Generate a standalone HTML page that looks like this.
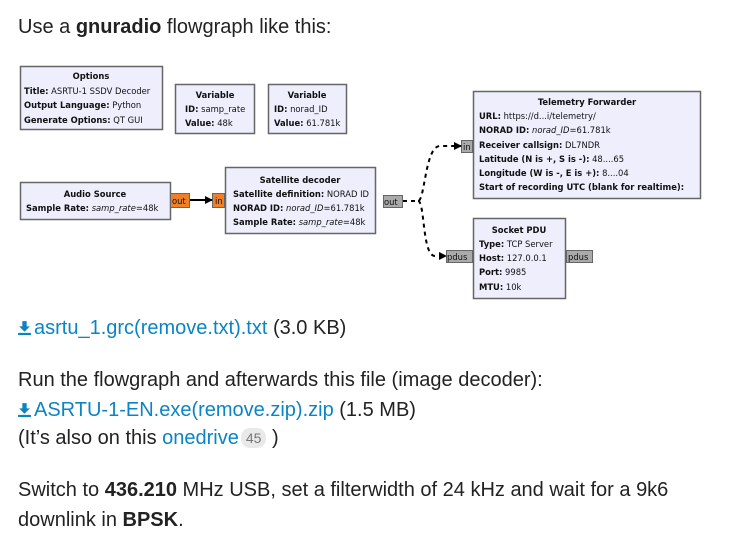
<!DOCTYPE html>
<html><head><meta charset="utf-8"><style>
body{margin:0;width:729px;height:546px;background:#fff;font-family:"Liberation Sans",Arial,sans-serif;color:#222;overflow:hidden;position:relative}
.t{position:absolute;left:18px;font-size:20px;white-space:nowrap;line-height:22px}
a{color:#0b84c5;text-decoration:none}
.ic{display:inline-block;width:13px;height:15px;vertical-align:-1px;margin-right:3px}
.badge{display:inline-block;background:#e9e9e9;color:#777;font-size:14px;border-radius:9px;padding:1px 5px;line-height:18px;vertical-align:1px;margin-left:2px}
svg{position:absolute;left:0;top:0}
svg text{font-family:"DejaVu Sans",sans-serif;font-size:8.4px;fill:#111}
</style></head><body>
<div class="t" style="top:16px">Use a <b>gnuradio</b> flowgraph like this:</div>

<svg width="729" height="300">
<defs><marker id="ah" markerWidth="8" markerHeight="8" refX="7" refY="4" orient="auto" markerUnits="userSpaceOnUse"><path d="M0,0 L8,4 L0,8z" fill="#000"/></marker></defs>
<g stroke="#666" stroke-width="1.5" fill="#eeeefc">
<rect x="20.5" y="66.5" width="142" height="63"/>
<rect x="175.5" y="84.5" width="79" height="49"/>
<rect x="268.5" y="84.5" width="78" height="49"/>
<rect x="20.5" y="182.5" width="150" height="37"/>
<rect x="225.5" y="167.5" width="150" height="66"/>
<rect x="473.5" y="91.5" width="227" height="107"/>
<rect x="473.5" y="218.5" width="92" height="80"/>
</g>
<g stroke="#666" stroke-width="1">
<rect x="170.5" y="193.5" width="19" height="14" fill="#f07f2a"/>
<rect x="212.5" y="193.5" width="12" height="14" fill="#f07f2a"/>
<rect x="383.5" y="195.5" width="19" height="12" fill="#aaa"/>
<rect x="461.5" y="140.5" width="11" height="12" fill="#aaa"/>
<rect x="446.5" y="250.5" width="26" height="12" fill="#aaa"/>
<rect x="566.5" y="250.5" width="26" height="12" fill="#aaa"/>
</g>
<line x1="190" y1="200" x2="212" y2="200" stroke="#000" stroke-width="2" marker-end="url(#ah)"/>
<path d="M403,201 L418,201 C425,201 425,146 440,146 L461,146" fill="none" stroke="#000" stroke-width="2" stroke-dasharray="4,4" marker-end="url(#ah)"/>
<path d="M418,201 C425,201 422,256 435,256 L446,256" fill="none" stroke="#000" stroke-width="2" stroke-dasharray="4,4" marker-end="url(#ah)"/>
<g>
<text x="91" y="79" text-anchor="middle" font-weight="bold">Options</text>
<text x="24" y="94"><tspan font-weight="bold">Title:</tspan> ASRTU-1 SSDV Decoder</text>
<text x="24" y="108"><tspan font-weight="bold">Output Language:</tspan> Python</text>
<text x="24" y="123"><tspan font-weight="bold">Generate Options:</tspan> QT GUI</text>
<text x="215" y="98" text-anchor="middle" font-weight="bold">Variable</text>
<text x="185" y="112"><tspan font-weight="bold">ID:</tspan> samp_rate</text>
<text x="185" y="126"><tspan font-weight="bold">Value:</tspan> 48k</text>
<text x="307" y="98" text-anchor="middle" font-weight="bold">Variable</text>
<text x="274" y="112"><tspan font-weight="bold">ID:</tspan> norad_ID</text>
<text x="274" y="126"><tspan font-weight="bold">Value:</tspan> 61.781k</text>
<text x="95" y="197" text-anchor="middle" font-weight="bold">Audio Source</text>
<text x="26" y="211"><tspan font-weight="bold">Sample Rate:</tspan> <tspan font-style="italic">samp_rate</tspan>=48k</text>
<text x="300" y="183" text-anchor="middle" font-weight="bold">Satellite decoder</text>
<text x="233" y="197"><tspan font-weight="bold">Satellite definition:</tspan> NORAD ID</text>
<text x="233" y="211"><tspan font-weight="bold">NORAD ID:</tspan> <tspan font-style="italic">norad_ID</tspan>=61.781k</text>
<text x="233" y="225"><tspan font-weight="bold">Sample Rate:</tspan> <tspan font-style="italic">samp_rate</tspan>=48k</text>
<text x="172" y="204" fill="#111">out</text>
<text x="215" y="204">in</text>
<text x="384" y="205">out</text>
<text x="463" y="150">in</text>
<text x="447" y="260">pdus</text>
<text x="568" y="260">pdus</text>
<text x="587" y="105" text-anchor="middle" font-weight="bold">Telemetry Forwarder</text>
<text x="479" y="119"><tspan font-weight="bold">URL:</tspan> https://d...i/telemetry/</text>
<text x="479" y="133"><tspan font-weight="bold">NORAD ID:</tspan> <tspan font-style="italic">norad_ID</tspan>=61.781k</text>
<text x="479" y="148"><tspan font-weight="bold">Receiver callsign:</tspan> DL7NDR</text>
<text x="479" y="162"><tspan font-weight="bold">Latitude (N is +, S is -):</tspan> 48....65</text>
<text x="479" y="176"><tspan font-weight="bold">Longitude (W is -, E is +):</tspan> 8....04</text>
<text x="479" y="190" font-weight="bold">Start of recording UTC (blank for realtime):</text>
<text x="519" y="233" text-anchor="middle" font-weight="bold">Socket PDU</text>
<text x="479" y="247"><tspan font-weight="bold">Type:</tspan> TCP Server</text>
<text x="479" y="261"><tspan font-weight="bold">Host:</tspan> 127.0.0.1</text>
<text x="479" y="275"><tspan font-weight="bold">Port:</tspan> 9985</text>
<text x="479" y="290"><tspan font-weight="bold">MTU:</tspan> 10k</text>
</g>
</svg>

<div class="t" style="top:317px"><svg class="ic" style="position:static" viewBox="0 0 12 14"><path d="M4,1h4v5h3l-5,5l-5,-5h3z M0,12h12v2h-12z" fill="#0b84c5"/></svg><a>asrtu_1.grc(remove.txt).txt</a> (3.0 KB)</div>
<div class="t" style="top:369px">Run the flowgraph and afterwards this file (image decoder):</div>
<div class="t" style="top:399px"><svg class="ic" style="position:static" viewBox="0 0 12 14"><path d="M4,1h4v5h3l-5,5l-5,-5h3z M0,12h12v2h-12z" fill="#0b84c5"/></svg><a>ASRTU-1-EN.exe(remove.zip).zip</a> (1.5 MB)</div>
<div class="t" style="top:427px">(It’s also on this <a>onedrive</a><span class="badge">45</span> )</div>
<div class="t" style="top:479px">Switch to <b>436.210</b> MHz USB, set a filterwidth of 24 kHz and wait for a 9k6</div>
<div class="t" style="top:509px">downlink in <b>BPSK</b>.</div>
</body></html>
